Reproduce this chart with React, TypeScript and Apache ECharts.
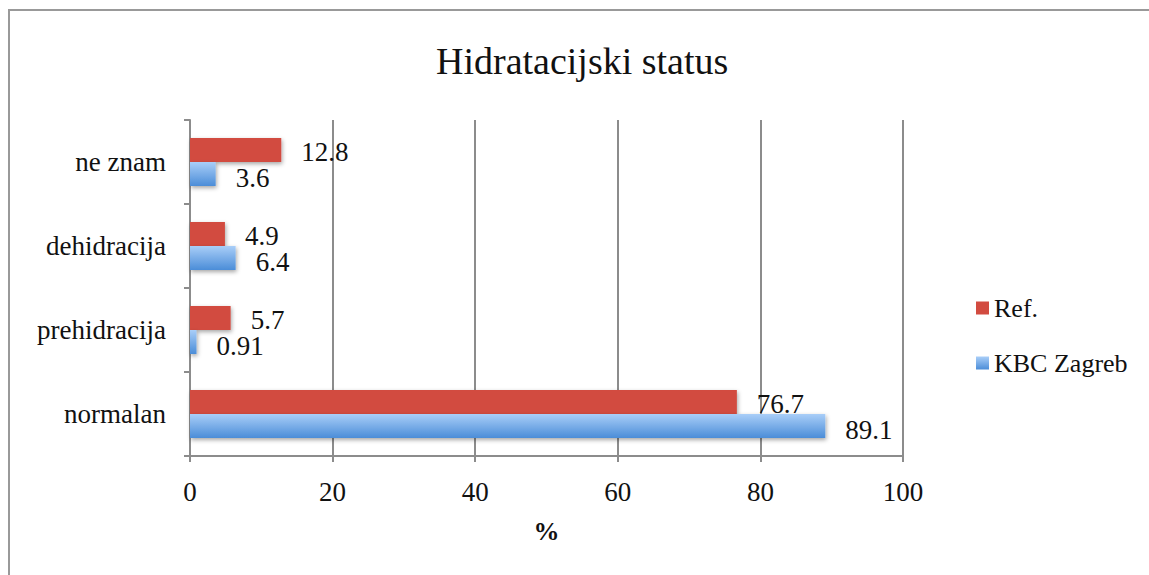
import React, { useEffect, useRef } from "react";
import * as echarts from "echarts";

const categories = ["normalan", "prehidracija", "dehidracija", "ne znam"];
const refValues = [76.7, 5.7, 4.9, 12.8];
const kbcValues = [89.1, 0.91, 6.4, 3.6];
const seriesNames = ["Ref.", "KBC Zagreb"];
const xTicks = { min: 0, max: 100, interval: 20 };

const FONT = "'Liberation Serif', 'Times New Roman', serif";

export default function App() {
  const ref = useRef<HTMLDivElement>(null);
  useEffect(() => {
    if (!ref.current) return;
    const chart = echarts.init(ref.current, undefined, { renderer: "svg" });
    const gray = "#8c8c8c";
    const shadow = {
      shadowColor: "rgba(0,0,0,0.35)",
      shadowBlur: 4,
      shadowOffsetX: 1,
      shadowOffsetY: 2,
    };
    chart.setOption({
      animation: false,
      backgroundColor: "#ffffff",
      title: {
        text: "Hidratacijski status",
        left: 431,
        top: 37,
        textStyle: { fontFamily: FONT, fontSize: 38, fontWeight: "normal", color: "#111" },
      },
      graphic: [
        {
          type: "rect",
          shape: { x: 9, y: 10, width: 1200, height: 600 },
          style: { fill: "none", stroke: "#999999", lineWidth: 2 },
          silent: true,
        },
      ],
      legend: {
        orient: "vertical",
        left: 971,
        top: 290,
        itemWidth: 13,
        itemHeight: 13,
        itemGap: 29,
        icon: "rect",
        data: seriesNames,
        textStyle: { fontFamily: FONT, fontSize: 26, color: "#111" },
      },
      grid: { left: 190, right: 246, top: 120, bottom: 119, containLabel: false },
      xAxis: {
        type: "value",
        min: xTicks.min,
        max: xTicks.max,
        interval: xTicks.interval,
        name: "%",
        nameLocation: "middle",
        nameGap: 62,
        nameTextStyle: { fontFamily: FONT, fontSize: 26, fontWeight: "bold", color: "#111" },
        axisLine: { show: true, lineStyle: { color: gray, width: 2 } },
        axisTick: { show: true, length: 6, lineStyle: { color: gray, width: 2 } },
        axisLabel: { fontFamily: FONT, fontSize: 27, color: "#111", margin: 22 },
        splitLine: { show: true, lineStyle: { color: gray, width: 2 } },
      },
      yAxis: {
        type: "category",
        data: categories,
        axisLine: { show: true, lineStyle: { color: gray, width: 2 } },
        axisTick: { show: true, length: 6, lineStyle: { color: gray, width: 2 } },
        axisLabel: { fontFamily: FONT, fontSize: 27, color: "#111", margin: 24, padding: [5, 0, 0, 0] },
        splitLine: { show: false },
      },
      series: [
        {
          name: seriesNames[0],
          type: "bar",
          data: refValues,
          barWidth: 24,
          barGap: "0%",
          itemStyle: { color: "#d24b40", ...shadow },
          label: {
            show: true,
            position: "right",
            distance: 20,
            offset: [0, 2],
            fontFamily: FONT,
            fontSize: 27,
            color: "#111",
          },
        },
        {
          name: seriesNames[1],
          type: "bar",
          data: kbcValues,
          barWidth: 24,
          barGap: "0%",
          itemStyle: {
            color: new echarts.graphic.LinearGradient(0, 0, 0, 1, [
              { offset: 0, color: "#a9cef8" },
              { offset: 1, color: "#4b8dd8" },
            ]),
            ...shadow,
          },
          label: {
            show: true,
            position: "right",
            distance: 20,
            offset: [0, 4],
            fontFamily: FONT,
            fontSize: 27,
            color: "#111",
          },
        },
      ],
    });
    return () => chart.dispose();
  }, []);
  return (
    <div
      ref={ref}
      style={{ position: "fixed", left: 0, top: 0, width: 1149, height: 575, background: "#fff" }}
    />
  );
}
